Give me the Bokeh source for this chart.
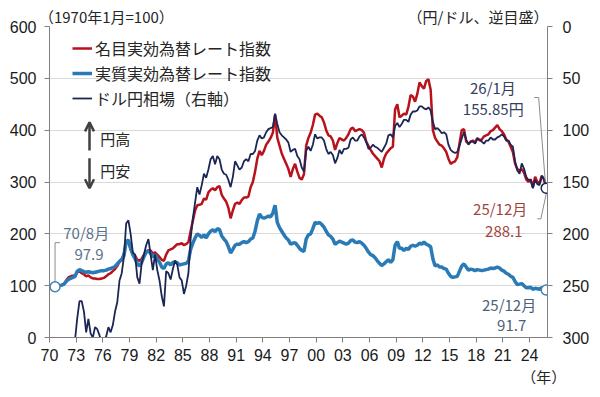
from bokeh.plotting import figure
from bokeh.models import (Range1d, LinearAxis, FixedTicker, Label, Arrow, OpenHead,
                          Legend, LegendItem)
from bokeh.embed import file_html
from bokeh.resources import INLINE

# ---------------- data (quarterly averages) ----------------
# USD/JPY, yen per dollar, 1970Q1 .. 2025Q4 (last = 26/1月 155.85円)
yen_usd = [
    360, 360, 360, 360,   # 1970
    358, 358, 342, 325,   # 1971
    303, 302, 301, 302,   # 1972
    281, 265, 265, 275,   # 1973
    295, 282, 296, 300,   # 1974
    290, 292, 298, 305,   # 1975
    302, 299, 290, 295,   # 1976
    288, 275, 266, 245,   # 1977
    238, 222, 190, 187,   # 1978
    200, 218, 220, 242,   # 1979
    248, 228, 220, 211,   # 1980
    205, 220, 235, 220,   # 1981
    235, 245, 260, 270,   # 1982
    236, 238, 244, 234,   # 1983
    226, 230, 242, 245,   # 1984
    258, 250, 238, 205,   # 1985
    185, 170, 155, 162,   # 1986
    153, 142, 146, 138,   # 1987
    128, 125, 133, 125,   # 1988
    128, 138, 142, 143,   # 1989
    148, 155, 145, 130,   # 1990
    134, 138, 136, 130,   # 1991
    128, 130, 123, 123,   # 1992
    120, 110, 105, 108,   # 1993
    107, 102, 99, 98,     # 1994
    97, 84, 94, 102,      # 1995
    105, 107, 109, 112,   # 1996
    121, 119, 118, 125,   # 1997
    128, 136, 140, 120,   # 1998
    116, 120, 114, 104,   # 1999
    108, 107, 107, 110,   # 2000
    118, 123, 121, 124,   # 2001
    132, 127, 119, 123,   # 2002
    118, 118, 117, 109,   # 2003
    107, 110, 110, 106,   # 2004
    104, 107, 111, 118,   # 2005
    117, 114, 116, 117,   # 2006
    119, 121, 117, 113,   # 2007
    105, 104, 107, 96,    # 2008
    93, 97, 94, 90,       # 2009
    90, 92, 85, 82,       # 2010
    82, 81, 77, 77,       # 2011
    79, 80, 78, 81,       # 2012
    92, 99, 98, 100,      # 2013
    103, 102, 104, 114,   # 2014
    119, 121, 122, 121,   # 2015
    115, 108, 102, 109,   # 2016
    114, 111, 111, 113,   # 2017
    108, 109, 111, 113,   # 2018
    110, 110, 107, 109,   # 2019
    109, 107, 106, 104,   # 2020
    106, 110, 110, 114,   # 2021
    116, 130, 139, 142,   # 2022
    132, 137, 145, 148,   # 2023
    148, 156, 148, 152,   # 2024
    153, 144, 147, 155.85,  # 2025
]

# Nominal effective exchange rate index (1970/1=100), 1970Q3 .. 2025Q4 (last = 25/12月 288.1)
neer = [
    100, 100,             # 1970
    100, 101, 103, 110,   # 1971
    116, 118, 119, 120,   # 1972
    126, 128, 124, 122,   # 1973
    118, 120, 116, 114,   # 1974
    114, 113, 113, 114,   # 1975
    115, 118, 122, 124,   # 1976
    128, 132, 138, 146,   # 1977
    152, 162, 182, 185,   # 1978
    170, 160, 158, 150,   # 1979
    148, 152, 160, 166,   # 1980
    168, 168, 162, 164,   # 1981
    160, 155, 150, 148,   # 1982
    160, 168, 170, 172,   # 1983
    176, 180, 180, 182,   # 1984
    178, 180, 184, 205,   # 1985
    225, 245, 255, 256,   # 1986
    258, 268, 266, 280,   # 1987
    285, 288, 284, 290,   # 1988
    292, 275, 268, 262,   # 1989
    250, 230, 245, 258,   # 1990
    260, 258, 265, 270,   # 1991
    270, 272, 290, 300,   # 1992
    320, 345, 360, 352,   # 1993
    360, 372, 378, 385,   # 1994
    395, 430, 385, 370,   # 1995
    355, 345, 335, 325,   # 1996
    310, 325, 335, 320,   # 1997
    308, 305, 315, 370,   # 1998
    385, 395, 410, 430,   # 1999
    432, 428, 425, 415,   # 2000
    400, 390, 388, 380,   # 2001
    362, 375, 385, 382,   # 2002
    380, 385, 392, 402,   # 2003
    405, 398, 400, 402,   # 2004
    400, 395, 378, 370,   # 2005
    362, 355, 350, 345,   # 2006
    340, 328, 345, 355,   # 2007
    360, 365, 368, 440,   # 2008
    450, 425, 428, 432,   # 2009
    430, 445, 468, 465,   # 2010
    455, 470, 492, 485,   # 2011
    480, 495, 498, 478,   # 2012
    400, 385, 378, 372,   # 2013
    370, 365, 358, 345,   # 2014
    335, 338, 340, 348,   # 2015
    375, 400, 402, 378,   # 2016
    374, 378, 380, 376,   # 2017
    385, 380, 382, 388,   # 2018
    390, 392, 398, 400,   # 2019
    405, 410, 402, 398,   # 2020
    392, 382, 378, 368,   # 2021
    358, 335, 325, 322,   # 2022
    325, 318, 305, 300,   # 2023
    305, 290, 310, 300,   # 2024
    298, 312, 305, 288.1,  # 2025
]

# Real effective exchange rate index (1970/1=100), 1970Q3 (70/8月 97.9) .. 2025Q4 (25/12月 91.7)
reer = [
    97.9, 99,             # 1970
    100, 101, 103, 108,   # 1971
    112, 114, 116, 118,   # 1972
    128, 131, 129, 127,   # 1973
    126, 127, 126, 125,   # 1974
    126, 127, 128, 129,   # 1975
    129, 130, 132, 133,   # 1976
    135, 137, 142, 147,   # 1977
    150, 158, 185, 188,   # 1978
    172, 160, 152, 142,   # 1979
    138, 145, 156, 164,   # 1980
    168, 162, 155, 160,   # 1981
    152, 145, 136, 133,   # 1982
    142, 144, 140, 145,   # 1983
    146, 144, 140, 141,   # 1984
    142, 143, 148, 170,   # 1985
    182, 192, 200, 197,   # 1986
    193, 198, 192, 200,   # 1987
    205, 208, 204, 210,   # 1988
    208, 196, 190, 185,   # 1989
    175, 163, 170, 178,   # 1990
    180, 180, 183, 185,   # 1991
    183, 185, 190, 192,   # 1992
    205, 225, 238, 232,   # 1993
    230, 232, 234, 233,   # 1994
    240, 255, 222, 212,   # 1995
    205, 198, 192, 188,   # 1996
    180, 182, 183, 178,   # 1997
    172, 168, 166, 190,   # 1998
    198, 200, 210, 222,   # 1999
    220, 222, 218, 213,   # 2000
    205, 198, 195, 190,   # 2001
    180, 183, 186, 184,   # 2002
    182, 180, 182, 187,   # 2003
    188, 184, 183, 185,   # 2004
    182, 178, 172, 165,   # 2005
    160, 158, 154, 148,   # 2006
    143, 139, 142, 146,   # 2007
    150, 145, 150, 178,   # 2008
    185, 172, 172, 168,   # 2009
    172, 170, 176, 178,   # 2010
    176, 178, 182, 180,   # 2011
    184, 180, 178, 175,   # 2012
    152, 138, 140, 136,   # 2013
    136, 133, 132, 124,   # 2014
    118, 116, 117, 118,   # 2015
    128, 138, 142, 136,   # 2016
    130, 132, 131, 129,   # 2017
    131, 130, 129, 130,   # 2018
    131, 132, 134, 133,   # 2019
    134, 136, 134, 130,   # 2020
    128, 124, 122, 118,   # 2021
    116, 108, 102, 103,   # 2022
    104, 100, 96, 96,     # 2023
    97, 93, 95, 94,       # 2024
    93, 96, 94, 91.7,     # 2025
]

x_tick_years = list(range(1970, 2025, 3))
left_ticks = [0, 100, 200, 300, 400, 500, 600]
right_ticks = [0, 50, 100, 150, 200, 250, 300]
left_unit = "（1970年1月=100）"
right_unit = "（円/ドル、逆目盛）"
x_unit = "（年）"

START = 1970


def quarter_x(first_q, n):
    return [START + 0.125 + 0.25 * (first_q + i) for i in range(n)]


x_yen = quarter_x(0, len(yen_usd))
x_neer = quarter_x(2, len(neer))
x_reer = quarter_x(2, len(reer))

# ---------------- style ----------------
JP = "Noto Sans CJK JP"
NUM = "Liberation Sans"
C_RED = "#B8121C"
C_BLUE = "#2A7AB6"
C_NAVY = "#1C2656"
GRID = "#D9D9D9"
AXIS = "#808080"
TXT = "#262626"

p = figure(width=600, height=397, output_backend="svg", toolbar_location=None,
           x_range=Range1d(1970, 2026.02), y_range=Range1d(0, 600),
           min_border_left=49, min_border_right=53, min_border_top=26, min_border_bottom=60)
p.extra_y_ranges = {"yen": Range1d(300, 0)}
p.outline_line_color = None
p.background_fill_color = "white"
p.border_fill_color = "white"

p.xgrid.grid_line_color = None
p.ygrid.grid_line_color = GRID
p.ygrid.ticker = FixedTicker(ticks=left_ticks)

# x axis
xa = p.xaxis[0]
xa.ticker = FixedTicker(ticks=x_tick_years)
xa.major_label_overrides = {y: f"{y % 100:02d}" for y in x_tick_years}
# left axis
ya = p.yaxis[0]
ya.ticker = FixedTicker(ticks=left_ticks)
# right axis
ra = LinearAxis(y_range_name="yen", ticker=FixedTicker(ticks=right_ticks))
p.add_layout(ra, "right")

for ax, standoff in ((xa, 6), (ya, 8), (ra, 10)):
    ax.axis_line_color = AXIS
    ax.major_tick_line_color = AXIS
    ax.major_tick_out = 5
    ax.major_tick_in = 0
    ax.minor_tick_line_color = None
    ax.major_label_text_font = NUM
    ax.major_label_text_font_size = "16px"
    ax.major_label_text_color = "#1a1a1a"
    ax.major_label_standoff = standoff

# unit captions drawn as label-only axes (outside the frame)
left_unit_x, right_unit_x, x_unit_x = 1976.4, 2018.2, 2025.6
top_cap = LinearAxis(ticker=FixedTicker(ticks=[left_unit_x, right_unit_x]),
                     major_label_overrides={left_unit_x: left_unit, right_unit_x: right_unit})
bot_cap = LinearAxis(ticker=FixedTicker(ticks=[x_unit_x]),
                     major_label_overrides={x_unit_x: x_unit})
for ax, place, standoff in ((top_cap, "above", 0), (bot_cap, "below", 2)):
    ax.axis_line_color = None
    ax.major_tick_line_color = None
    ax.minor_tick_line_color = None
    ax.major_tick_out = 0
    ax.major_tick_in = 0
    ax.major_label_standoff = standoff
    ax.major_label_text_font = JP
    ax.major_label_text_font_size = "15px"
    ax.major_label_text_color = TXT
    p.add_layout(ax, place)

# ---------------- series ----------------
r_red = p.line(x_neer, neer, line_color=C_RED, line_width=2.5)
r_blue = p.line(x_reer, reer, line_color=C_BLUE, line_width=3.5)
r_navy = p.line(x_yen, yen_usd, line_color=C_NAVY, line_width=1.8, y_range_name="yen")

legend = Legend(items=[LegendItem(label="名目実効為替レート指数", renderers=[r_red]),
                       LegendItem(label="実質実効為替レート指数", renderers=[r_blue]),
                       LegendItem(label="ドル円相場（右軸）", renderers=[r_navy])],
                location=(23, 227), padding=0, margin=0, spacing=1,
                glyph_width=20, glyph_height=16, label_height=16, label_standoff=3,
                border_line_alpha=0, background_fill_alpha=0,
                label_text_font=JP, label_text_font_size="16px", label_text_color=TXT)
p.add_layout(legend)

# ---------------- annotations ----------------
def put(text, x, y, color, size="15px", align="left"):
    p.add_layout(Label(x=x, y=y, text=text, text_color=color, text_font=JP,
                       text_font_size=size, text_align=align, text_baseline="middle"))


# arrows
ARROW_C = "#404040"
arrow_x = 1974.5
p.add_layout(Arrow(end=OpenHead(size=9, line_width=2.5, line_color=ARROW_C),
                   x_start=arrow_x, y_start=361, x_end=arrow_x, y_end=415,
                   line_width=2.5, line_color=ARROW_C))
p.add_layout(Arrow(end=OpenHead(size=9, line_width=2.5, line_color=ARROW_C),
                   x_start=arrow_x, y_start=346, x_end=arrow_x, y_end=288,
                   line_width=2.5, line_color=ARROW_C))
put("円高", 1975.7, 383, TXT, "15px")
put("円安", 1975.7, 322, TXT, "15px")

# start / end markers
x0, v0 = x_reer[0], reer[0]
xe = x_reer[-1]
C_LEAD = "#8C8C8C"
p.line([x0, x0, x0 + 0.55], [v0 + 9, 183, 183], line_color=C_LEAD, line_width=1)
p.line([xe - 1.35, xe - 0.85, xe - 0.1], [463, 463, 300], line_color=C_LEAD, line_width=1)
p.line([xe, xe - 0.6, xe - 1.0], [neer[-1] - 11, 229, 229], line_color=C_LEAD, line_width=1)

p.scatter([x0, xe], [v0, reer[-1]], size=10, fill_color="white",
          line_color="#3F82B2", line_width=1.5)
p.scatter([xe], [neer[-1]], size=10, fill_color="white", line_color=C_NAVY, line_width=1.5)

put("70/8月", 1971.55, 203, "#5A7088")
put("97.9", 1972.8, 160, "#5A7088")
put("26/1月", 2017.3, 482, "#34405E")
put("155.85円", 2016.5, 441, "#34405E")
put("25/12月", 2017.65, 248, "#A2443D")
put("288.1", 2019.0, 204.5, "#A2443D")
put("25/12月", 2018.65, 64.5, "#4C6079")
put("91.7", 2020.35, 23, "#4C6079")

open("out.html", "w").write(file_html(p, INLINE))
